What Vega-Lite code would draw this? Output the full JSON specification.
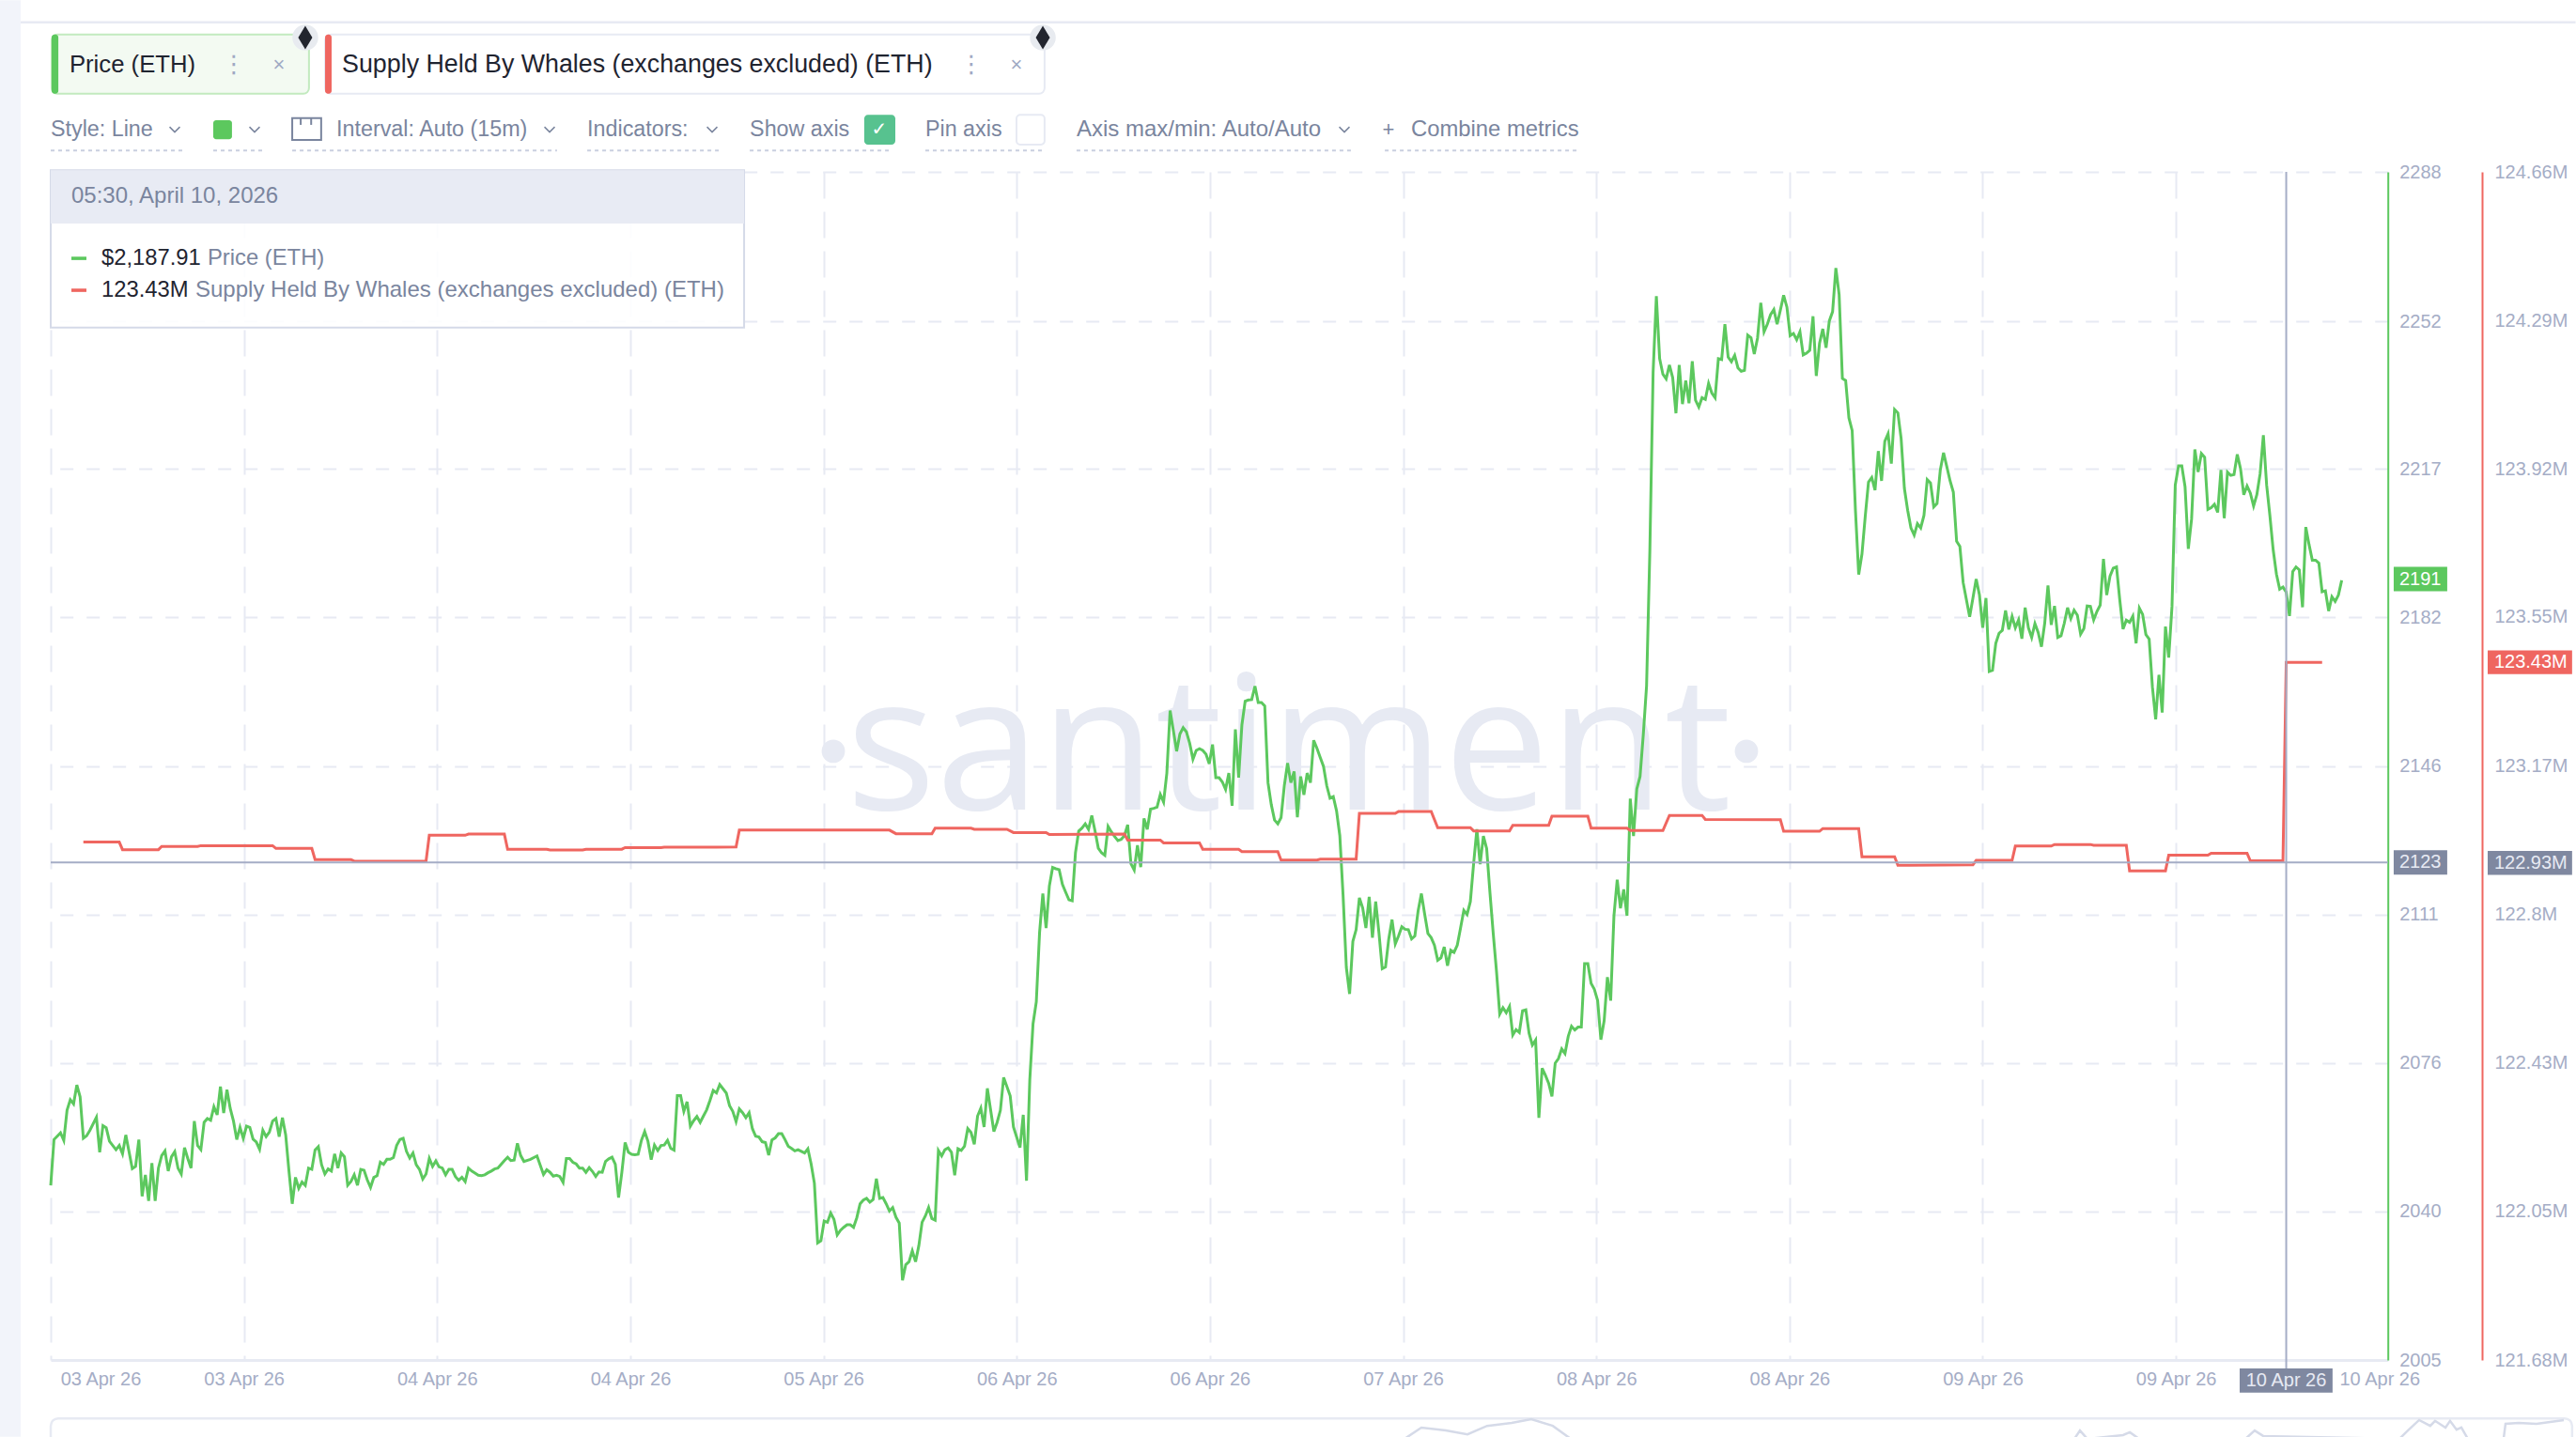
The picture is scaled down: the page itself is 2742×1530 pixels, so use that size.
{
"$schema":"https://vega.github.io/schema/vega-lite/v6.json",
"autosize":{"type":"none"},
"padding":{"left":54,"top":183,"right":200.3,"bottom":82},
"width":2487.7,
"height":1265,
"background":"#ffffff",
"config":{"view":{"stroke":null},"text":{"font":"Liberation Sans","align":"left","baseline":"middle","fontSize":23.3,"color":"#7a859e"}},
"data":{"values":[{"k":1}]},
"datasets":{
"price":[
{"t":"2026-04-03T02:15Z","p":2046.6},{"t":"2026-04-03T02:30Z","p":2057.5},{"t":"2026-04-03T03:00Z","p":2059.1},{"t":"2026-04-03T03:15Z","p":2057.3},{"t":"2026-04-03T03:30Z","p":2064.5},{"t":"2026-04-03T03:45Z","p":2067.0},{"t":"2026-04-03T04:00Z","p":2066.0},{"t":"2026-04-03T04:15Z","p":2070.5},{"t":"2026-04-03T04:30Z","p":2067.7},{"t":"2026-04-03T04:45Z","p":2057.8},{"t":"2026-04-03T05:00Z","p":2058.4},{"t":"2026-04-03T05:15Z","p":2059.7},{"t":"2026-04-03T05:45Z","p":2062.8},{"t":"2026-04-03T06:00Z","p":2054.5},{"t":"2026-04-03T06:15Z","p":2060.8},{"t":"2026-04-03T06:30Z","p":2060.3},{"t":"2026-04-03T06:45Z","p":2057.1},{"t":"2026-04-03T07:15Z","p":2055.1},{"t":"2026-04-03T07:30Z","p":2056.1},{"t":"2026-04-03T07:45Z","p":2054.1},{"t":"2026-04-03T08:00Z","p":2058.6},{"t":"2026-04-03T08:30Z","p":2050.6},{"t":"2026-04-03T08:45Z","p":2051.1},{"t":"2026-04-03T09:00Z","p":2057.5},{"t":"2026-04-03T09:15Z","p":2044.0},{"t":"2026-04-03T09:30Z","p":2049.1},{"t":"2026-04-03T09:45Z","p":2042.9},{"t":"2026-04-03T10:00Z","p":2051.9},{"t":"2026-04-03T10:15Z","p":2042.9},{"t":"2026-04-03T10:30Z","p":2050.7},{"t":"2026-04-03T10:45Z","p":2053.7},{"t":"2026-04-03T11:00Z","p":2054.8},{"t":"2026-04-03T11:15Z","p":2050.0},{"t":"2026-04-03T11:30Z","p":2053.4},{"t":"2026-04-03T11:45Z","p":2054.6},{"t":"2026-04-03T12:00Z","p":2050.7},{"t":"2026-04-03T12:15Z","p":2049.3},{"t":"2026-04-03T12:30Z","p":2055.6},{"t":"2026-04-03T12:45Z","p":2053.0},{"t":"2026-04-03T13:00Z","p":2050.7},{"t":"2026-04-03T13:15Z","p":2061.9},{"t":"2026-04-03T13:30Z","p":2056.1},{"t":"2026-04-03T13:45Z","p":2055.1},{"t":"2026-04-03T14:00Z","p":2061.6},{"t":"2026-04-03T14:15Z","p":2062.5},{"t":"2026-04-03T14:30Z","p":2062.1},{"t":"2026-04-03T14:45Z","p":2065.3},{"t":"2026-04-03T15:00Z","p":2063.4},{"t":"2026-04-03T15:15Z","p":2070.1},{"t":"2026-04-03T15:30Z","p":2063.8},{"t":"2026-04-03T15:45Z","p":2069.4},{"t":"2026-04-03T16:00Z","p":2064.9},{"t":"2026-04-03T16:15Z","p":2061.9},{"t":"2026-04-03T16:30Z","p":2057.5},{"t":"2026-04-03T16:45Z","p":2060.4},{"t":"2026-04-03T17:00Z","p":2057.8},{"t":"2026-04-03T17:15Z","p":2060.7},{"t":"2026-04-03T17:30Z","p":2060.4},{"t":"2026-04-03T17:45Z","p":2057.6},{"t":"2026-04-03T18:00Z","p":2056.9},{"t":"2026-04-03T18:15Z","p":2055.2},{"t":"2026-04-03T18:30Z","p":2059.7},{"t":"2026-04-03T18:45Z","p":2058.2},{"t":"2026-04-03T19:00Z","p":2059.3},{"t":"2026-04-03T19:15Z","p":2061.9},{"t":"2026-04-03T19:30Z","p":2062.5},{"t":"2026-04-03T19:45Z","p":2058.2},{"t":"2026-04-03T20:00Z","p":2062.7},{"t":"2026-04-03T20:15Z","p":2058.6},{"t":"2026-04-03T20:30Z","p":2050.0},{"t":"2026-04-03T20:45Z","p":2042.2},{"t":"2026-04-03T21:00Z","p":2048.5},{"t":"2026-04-03T21:15Z","p":2045.9},{"t":"2026-04-03T21:30Z","p":2047.4},{"t":"2026-04-03T21:45Z","p":2046.6},{"t":"2026-04-03T22:00Z","p":2050.7},{"t":"2026-04-03T22:15Z","p":2050.4},{"t":"2026-04-03T22:30Z","p":2055.0},{"t":"2026-04-03T22:45Z","p":2055.8},{"t":"2026-04-03T23:00Z","p":2051.5},{"t":"2026-04-03T23:15Z","p":2049.3},{"t":"2026-04-03T23:30Z","p":2050.5},{"t":"2026-04-03T23:45Z","p":2050.0},
{"t":"2026-04-04T00:00Z","p":2054.1},{"t":"2026-04-04T00:15Z","p":2050.7},{"t":"2026-04-04T00:30Z","p":2054.3},{"t":"2026-04-04T00:45Z","p":2053.4},{"t":"2026-04-04T01:00Z","p":2046.6},{"t":"2026-04-04T01:15Z","p":2047.5},{"t":"2026-04-04T01:30Z","p":2049.1},{"t":"2026-04-04T01:45Z","p":2046.6},{"t":"2026-04-04T02:00Z","p":2050.4},{"t":"2026-04-04T02:15Z","p":2050.2},{"t":"2026-04-04T02:30Z","p":2047.9},{"t":"2026-04-04T02:45Z","p":2046.1},{"t":"2026-04-04T03:00Z","p":2048.5},{"t":"2026-04-04T03:15Z","p":2048.9},{"t":"2026-04-04T03:30Z","p":2052.1},{"t":"2026-04-04T03:45Z","p":2051.6},{"t":"2026-04-04T04:00Z","p":2052.8},{"t":"2026-04-04T04:15Z","p":2052.8},{"t":"2026-04-04T04:30Z","p":2053.2},{"t":"2026-04-04T04:45Z","p":2056.1},{"t":"2026-04-04T05:00Z","p":2057.5},{"t":"2026-04-04T05:15Z","p":2057.8},{"t":"2026-04-04T05:30Z","p":2054.7},{"t":"2026-04-04T05:45Z","p":2053.1},{"t":"2026-04-04T06:00Z","p":2054.3},{"t":"2026-04-04T06:15Z","p":2051.5},{"t":"2026-04-04T06:30Z","p":2050.4},{"t":"2026-04-04T06:45Z","p":2048.1},{"t":"2026-04-04T07:00Z","p":2049.3},{"t":"2026-04-04T07:15Z","p":2053.0},{"t":"2026-04-04T07:30Z","p":2051.1},{"t":"2026-04-04T07:45Z","p":2052.4},{"t":"2026-04-04T08:00Z","p":2051.0},{"t":"2026-04-04T08:15Z","p":2050.7},{"t":"2026-04-04T08:30Z","p":2049.1},{"t":"2026-04-04T08:45Z","p":2050.4},{"t":"2026-04-04T09:00Z","p":2050.4},{"t":"2026-04-04T09:15Z","p":2048.7},{"t":"2026-04-04T09:30Z","p":2047.8},{"t":"2026-04-04T09:45Z","p":2048.5},{"t":"2026-04-04T10:00Z","p":2047.5},{"t":"2026-04-04T10:15Z","p":2050.7},{"t":"2026-04-04T10:30Z","p":2050.0},{"t":"2026-04-04T10:45Z","p":2049.5},{"t":"2026-04-04T11:00Z","p":2049.0},{"t":"2026-04-04T11:15Z","p":2048.9},{"t":"2026-04-04T11:30Z","p":2049.1},{"t":"2026-04-04T11:45Z","p":2049.6},{"t":"2026-04-04T12:00Z","p":2050.0},{"t":"2026-04-04T12:15Z","p":2050.5},{"t":"2026-04-04T12:30Z","p":2050.7},{"t":"2026-04-04T12:45Z","p":2051.6},{"t":"2026-04-04T13:00Z","p":2052.5},{"t":"2026-04-04T13:15Z","p":2053.3},{"t":"2026-04-04T13:30Z","p":2052.5},{"t":"2026-04-04T13:45Z","p":2052.6},{"t":"2026-04-04T14:00Z","p":2056.6},{"t":"2026-04-04T14:15Z","p":2053.7},
{"t":"2026-04-04T14:30Z","p":2052.3},{"t":"2026-04-04T15:00Z","p":2052.8},{"t":"2026-04-04T15:30Z","p":2053.6},{"t":"2026-04-04T16:00Z","p":2049.2},{"t":"2026-04-04T16:15Z","p":2050.3},{"t":"2026-04-04T16:30Z","p":2049.7},{"t":"2026-04-04T16:45Z","p":2048.8},{"t":"2026-04-04T17:00Z","p":2049.0},{"t":"2026-04-04T17:15Z","p":2048.7},{"t":"2026-04-04T17:30Z","p":2047.3},{"t":"2026-04-04T17:45Z","p":2053.0},{"t":"2026-04-04T18:00Z","p":2053.0},{"t":"2026-04-04T18:15Z","p":2052.1},{"t":"2026-04-04T18:30Z","p":2051.7},{"t":"2026-04-04T18:45Z","p":2050.7},{"t":"2026-04-04T19:00Z","p":2050.7},{"t":"2026-04-04T19:15Z","p":2049.7},{"t":"2026-04-04T19:30Z","p":2050.8},{"t":"2026-04-04T19:45Z","p":2049.9},{"t":"2026-04-04T20:00Z","p":2048.7},{"t":"2026-04-04T20:15Z","p":2049.8},{"t":"2026-04-04T20:30Z","p":2049.7},{"t":"2026-04-04T20:45Z","p":2052.3},{"t":"2026-04-04T21:00Z","p":2052.9},{"t":"2026-04-04T21:15Z","p":2053.3},{"t":"2026-04-04T21:30Z","p":2051.6},{"t":"2026-04-04T21:45Z","p":2043.7},{"t":"2026-04-04T22:00Z","p":2049.7},{"t":"2026-04-04T22:15Z","p":2056.8},{"t":"2026-04-04T22:30Z","p":2054.5},{"t":"2026-04-04T22:45Z","p":2054.0},{"t":"2026-04-04T23:00Z","p":2053.9},{"t":"2026-04-04T23:15Z","p":2054.0},{"t":"2026-04-04T23:30Z","p":2057.3},{"t":"2026-04-04T23:45Z","p":2059.4},
{"t":"2026-04-05T00:00Z","p":2057.1},{"t":"2026-04-05T00:15Z","p":2052.7},{"t":"2026-04-05T00:30Z","p":2056.2},{"t":"2026-04-05T00:45Z","p":2054.9},{"t":"2026-04-05T01:00Z","p":2056.1},{"t":"2026-04-05T01:15Z","p":2056.2},{"t":"2026-04-05T01:30Z","p":2057.3},{"t":"2026-04-05T01:45Z","p":2055.4},{"t":"2026-04-05T02:00Z","p":2055.0},{"t":"2026-04-05T02:15Z","p":2068.0},{"t":"2026-04-05T02:30Z","p":2068.0},{"t":"2026-04-05T02:45Z","p":2064.2},{"t":"2026-04-05T03:00Z","p":2066.5},{"t":"2026-04-05T03:15Z","p":2060.7},{"t":"2026-04-05T03:30Z","p":2062.0},{"t":"2026-04-05T03:45Z","p":2063.0},{"t":"2026-04-05T04:00Z","p":2061.6},{"t":"2026-04-05T04:15Z","p":2063.1},{"t":"2026-04-05T04:30Z","p":2064.6},{"t":"2026-04-05T04:45Z","p":2066.8},{"t":"2026-04-05T05:00Z","p":2069.2},{"t":"2026-04-05T05:15Z","p":2068.6},{"t":"2026-04-05T05:30Z","p":2070.6},{"t":"2026-04-05T05:45Z","p":2069.6},{"t":"2026-04-05T06:00Z","p":2068.6},{"t":"2026-04-05T06:15Z","p":2065.6},{"t":"2026-04-05T06:30Z","p":2064.2},{"t":"2026-04-05T06:45Z","p":2061.8},{"t":"2026-04-05T07:00Z","p":2064.8},{"t":"2026-04-05T07:15Z","p":2063.9},{"t":"2026-04-05T07:30Z","p":2062.7},{"t":"2026-04-05T07:45Z","p":2063.9},{"t":"2026-04-05T08:00Z","p":2060.1},{"t":"2026-04-05T08:15Z","p":2058.3},{"t":"2026-04-05T08:30Z","p":2058.1},{"t":"2026-04-05T08:45Z","p":2057.0},{"t":"2026-04-05T09:00Z","p":2056.8},{"t":"2026-04-05T09:15Z","p":2053.8},{"t":"2026-04-05T09:30Z","p":2057.4},{"t":"2026-04-05T09:45Z","p":2057.9},{"t":"2026-04-05T10:00Z","p":2058.9},{"t":"2026-04-05T10:15Z","p":2058.9},{"t":"2026-04-05T10:30Z","p":2057.5},{"t":"2026-04-05T10:45Z","p":2055.9},{"t":"2026-04-05T11:00Z","p":2055.4},{"t":"2026-04-05T11:15Z","p":2054.8},{"t":"2026-04-05T11:30Z","p":2055.1},{"t":"2026-04-05T11:45Z","p":2054.7},{"t":"2026-04-05T12:00Z","p":2054.3},{"t":"2026-04-05T12:15Z","p":2055.3},{"t":"2026-04-05T12:30Z","p":2051.7},{"t":"2026-04-05T12:45Z","p":2047.1},{"t":"2026-04-05T13:00Z","p":2032.9},{"t":"2026-04-05T13:15Z","p":2033.4},{"t":"2026-04-05T13:30Z","p":2038.1},{"t":"2026-04-05T13:45Z","p":2037.8},{"t":"2026-04-05T14:00Z","p":2040.0},{"t":"2026-04-05T14:15Z","p":2038.5},{"t":"2026-04-05T14:30Z","p":2034.8},{"t":"2026-04-05T14:45Z","p":2035.9},{"t":"2026-04-05T15:00Z","p":2036.6},{"t":"2026-04-05T15:15Z","p":2037.2},{"t":"2026-04-05T15:30Z","p":2037.2},{"t":"2026-04-05T15:45Z","p":2036.6},{"t":"2026-04-05T16:00Z","p":2038.9},{"t":"2026-04-05T16:15Z","p":2042.2},{"t":"2026-04-05T16:30Z","p":2043.1},{"t":"2026-04-05T16:45Z","p":2043.5},{"t":"2026-04-05T17:00Z","p":2042.6},{"t":"2026-04-05T17:15Z","p":2043.2},{"t":"2026-04-05T17:30Z","p":2048.2},{"t":"2026-04-05T17:45Z","p":2043.5},{"t":"2026-04-05T18:00Z","p":2043.7},{"t":"2026-04-05T18:15Z","p":2042.2},{"t":"2026-04-05T18:30Z","p":2040.5},{"t":"2026-04-05T18:45Z","p":2041.3},{"t":"2026-04-05T19:00Z","p":2039.0},{"t":"2026-04-05T19:15Z","p":2037.6},{"t":"2026-04-05T19:30Z","p":2024.0},{"t":"2026-04-05T19:45Z","p":2027.7},{"t":"2026-04-05T20:00Z","p":2028.4},{"t":"2026-04-05T20:15Z","p":2031.0},{"t":"2026-04-05T20:30Z","p":2028.4},{"t":"2026-04-05T20:45Z","p":2032.2},{"t":"2026-04-05T21:00Z","p":2037.8},{"t":"2026-04-05T21:15Z","p":2039.3},{"t":"2026-04-05T21:30Z","p":2041.3},{"t":"2026-04-05T21:45Z","p":2038.7},{"t":"2026-04-05T22:00Z","p":2038.3},{"t":"2026-04-05T22:15Z","p":2054.9},{"t":"2026-04-05T22:30Z","p":2053.6},{"t":"2026-04-05T22:45Z","p":2055.1},{"t":"2026-04-05T23:00Z","p":2055.5},{"t":"2026-04-05T23:15Z","p":2054.5},{"t":"2026-04-05T23:30Z","p":2049.0},{"t":"2026-04-05T23:45Z","p":2055.3},
{"t":"2026-04-06T00:00Z","p":2054.9},{"t":"2026-04-06T00:15Z","p":2055.9},{"t":"2026-04-06T00:30Z","p":2060.1},{"t":"2026-04-06T00:45Z","p":2059.2},{"t":"2026-04-06T01:00Z","p":2056.4},{"t":"2026-04-06T01:15Z","p":2063.1},{"t":"2026-04-06T01:30Z","p":2065.0},{"t":"2026-04-06T01:45Z","p":2060.5},{"t":"2026-04-06T02:00Z","p":2069.7},{"t":"2026-04-06T02:30Z","p":2059.4},{"t":"2026-04-06T02:45Z","p":2061.6},{"t":"2026-04-06T03:00Z","p":2064.5},{"t":"2026-04-06T03:15Z","p":2072.3},{"t":"2026-04-06T03:45Z","p":2067.9},{"t":"2026-04-06T04:00Z","p":2060.5},{"t":"2026-04-06T04:30Z","p":2055.6},{"t":"2026-04-06T04:45Z","p":2063.4},{"t":"2026-04-06T05:00Z","p":2047.7},{"t":"2026-04-06T05:15Z","p":2071.7},{"t":"2026-04-06T05:30Z","p":2085.1},{"t":"2026-04-06T05:45Z","p":2090.3},{"t":"2026-04-06T06:00Z","p":2106.8},{"t":"2026-04-06T06:15Z","p":2116.1},{"t":"2026-04-06T06:30Z","p":2107.9},{"t":"2026-04-06T06:45Z","p":2117.9},{"t":"2026-04-06T07:00Z","p":2122.3},{"t":"2026-04-06T07:15Z","p":2122.0},{"t":"2026-04-06T07:30Z","p":2121.8},{"t":"2026-04-06T07:45Z","p":2118.3},{"t":"2026-04-06T08:00Z","p":2116.4},{"t":"2026-04-06T08:15Z","p":2114.6},{"t":"2026-04-06T08:30Z","p":2114.4},{"t":"2026-04-06T08:45Z","p":2125.8},{"t":"2026-04-06T09:00Z","p":2131.0},{"t":"2026-04-06T09:15Z","p":2131.7},{"t":"2026-04-06T09:30Z","p":2132.7},{"t":"2026-04-06T09:45Z","p":2131.4},{"t":"2026-04-06T10:00Z","p":2134.7},{"t":"2026-04-06T10:15Z","p":2131.0},{"t":"2026-04-06T10:30Z","p":2126.9},{"t":"2026-04-06T10:45Z","p":2125.8},{"t":"2026-04-06T11:00Z","p":2125.2},{"t":"2026-04-06T11:15Z","p":2132.1},{"t":"2026-04-06T11:30Z","p":2130.8},{"t":"2026-04-06T11:45Z","p":2129.7},{"t":"2026-04-06T12:00Z","p":2128.7},{"t":"2026-04-06T12:15Z","p":2129.0},{"t":"2026-04-06T12:30Z","p":2129.9},{"t":"2026-04-06T12:45Z","p":2132.5},{"t":"2026-04-06T13:00Z","p":2123.2},{"t":"2026-04-06T13:15Z","p":2121.7},{"t":"2026-04-06T13:30Z","p":2127.6},{"t":"2026-04-06T13:45Z","p":2122.4},{"t":"2026-04-06T14:00Z","p":2134.0},{"t":"2026-04-06T14:15Z","p":2131.4},{"t":"2026-04-06T14:30Z","p":2136.2},{"t":"2026-04-06T14:45Z","p":2136.4},{"t":"2026-04-06T15:00Z","p":2136.7},{"t":"2026-04-06T15:15Z","p":2139.7},{"t":"2026-04-06T15:30Z","p":2137.9},{"t":"2026-04-06T15:45Z","p":2144.8},{"t":"2026-04-06T16:00Z","p":2159.7},{"t":"2026-04-06T16:15Z","p":2154.9},{"t":"2026-04-06T16:30Z","p":2150.0},{"t":"2026-04-06T16:45Z","p":2154.1},{"t":"2026-04-06T17:00Z","p":2155.6},{"t":"2026-04-06T17:15Z","p":2154.6},{"t":"2026-04-06T17:30Z","p":2151.9},{"t":"2026-04-06T17:45Z","p":2148.1},{"t":"2026-04-06T18:00Z","p":2150.2},{"t":"2026-04-06T18:15Z","p":2150.6},{"t":"2026-04-06T18:30Z","p":2150.2},{"t":"2026-04-06T18:45Z","p":2149.3},{"t":"2026-04-06T19:00Z","p":2147.0},{"t":"2026-04-06T19:15Z","p":2151.6},{"t":"2026-04-06T19:30Z","p":2143.7},{"t":"2026-04-06T19:45Z","p":2143.7},{"t":"2026-04-06T20:00Z","p":2142.7},{"t":"2026-04-06T20:15Z","p":2140.9},{"t":"2026-04-06T20:30Z","p":2144.8},{"t":"2026-04-06T20:45Z","p":2137.0},{"t":"2026-04-06T21:00Z","p":2155.2},{"t":"2026-04-06T21:15Z","p":2143.7},{"t":"2026-04-06T21:30Z","p":2156.3},{"t":"2026-04-06T21:45Z","p":2161.9},{"t":"2026-04-06T22:00Z","p":2162.2},{"t":"2026-04-06T22:15Z","p":2162.3},{"t":"2026-04-06T22:30Z","p":2165.5},{"t":"2026-04-06T22:45Z","p":2161.6},{"t":"2026-04-06T23:00Z","p":2161.6},{"t":"2026-04-06T23:15Z","p":2160.8},{"t":"2026-04-06T23:30Z","p":2142.5},{"t":"2026-04-06T23:45Z","p":2137.3},
{"t":"2026-04-07T00:00Z","p":2133.6},{"t":"2026-04-07T00:15Z","p":2132.7},{"t":"2026-04-07T00:30Z","p":2134.2},{"t":"2026-04-07T00:45Z","p":2141.8},{"t":"2026-04-07T01:00Z","p":2147.2},{"t":"2026-04-07T01:15Z","p":2142.5},{"t":"2026-04-07T01:30Z","p":2145.2},{"t":"2026-04-07T01:45Z","p":2134.3},{"t":"2026-04-07T02:00Z","p":2144.0},{"t":"2026-04-07T02:15Z","p":2139.6},{"t":"2026-04-07T02:30Z","p":2144.8},{"t":"2026-04-07T02:45Z","p":2142.5},{"t":"2026-04-07T03:00Z","p":2152.6},{"t":"2026-04-07T03:15Z","p":2150.7},{"t":"2026-04-07T03:30Z","p":2148.5},{"t":"2026-04-07T03:45Z","p":2146.4},{"t":"2026-04-07T04:00Z","p":2141.8},{"t":"2026-04-07T04:15Z","p":2138.8},{"t":"2026-04-07T04:30Z","p":2139.2},{"t":"2026-04-07T04:45Z","p":2135.8},{"t":"2026-04-07T05:00Z","p":2129.9},{"t":"2026-04-07T05:15Z","p":2115.7},{"t":"2026-04-07T05:30Z","p":2098.5},{"t":"2026-04-07T05:45Z","p":2092.2},{"t":"2026-04-07T06:00Z","p":2104.7},{"t":"2026-04-07T06:15Z","p":2107.5},{"t":"2026-04-07T06:30Z","p":2115.1},{"t":"2026-04-07T06:45Z","p":2112.7},{"t":"2026-04-07T07:00Z","p":2107.9},{"t":"2026-04-07T07:15Z","p":2115.3},{"t":"2026-04-07T07:30Z","p":2105.6},{"t":"2026-04-07T07:45Z","p":2114.2},{"t":"2026-04-07T08:00Z","p":2106.7},{"t":"2026-04-07T08:15Z","p":2098.2},{"t":"2026-04-07T08:30Z","p":2098.6},{"t":"2026-04-07T08:45Z","p":2105.3},{"t":"2026-04-07T09:00Z","p":2109.9},{"t":"2026-04-07T09:15Z","p":2104.1},{"t":"2026-04-07T09:30Z","p":2106.0},{"t":"2026-04-07T09:45Z","p":2108.2},{"t":"2026-04-07T10:00Z","p":2107.6},{"t":"2026-04-07T10:15Z","p":2107.5},{"t":"2026-04-07T10:30Z","p":2105.3},{"t":"2026-04-07T10:45Z","p":2106.0},{"t":"2026-04-07T11:00Z","p":2112.0},{"t":"2026-04-07T11:15Z","p":2116.1},{"t":"2026-04-07T11:30Z","p":2111.2},{"t":"2026-04-07T11:45Z","p":2106.6},{"t":"2026-04-07T12:00Z","p":2105.6},{"t":"2026-04-07T12:15Z","p":2103.8},{"t":"2026-04-07T12:30Z","p":2100.2},{"t":"2026-04-07T12:45Z","p":2100.8},{"t":"2026-04-07T13:00Z","p":2103.4},{"t":"2026-04-07T13:15Z","p":2098.9},{"t":"2026-04-07T13:30Z","p":2102.6},{"t":"2026-04-07T13:45Z","p":2102.1},{"t":"2026-04-07T14:00Z","p":2103.8},{"t":"2026-04-07T14:15Z","p":2107.9},{"t":"2026-04-07T14:30Z","p":2112.1},{"t":"2026-04-07T14:45Z","p":2111.1},{"t":"2026-04-07T15:00Z","p":2114.2},{"t":"2026-04-07T15:15Z","p":2123.2},{"t":"2026-04-07T15:30Z","p":2131.4},{"t":"2026-04-07T15:45Z","p":2123.1},{"t":"2026-04-07T16:00Z","p":2129.8},{"t":"2026-04-07T16:15Z","p":2126.8},{"t":"2026-04-07T16:30Z","p":2116.4},{"t":"2026-04-07T16:45Z","p":2106.7},{"t":"2026-04-07T17:00Z","p":2097.7},{"t":"2026-04-07T17:15Z","p":2087.4},{"t":"2026-04-07T17:30Z","p":2088.9},{"t":"2026-04-07T17:45Z","p":2087.7},{"t":"2026-04-07T18:00Z","p":2089.2},{"t":"2026-04-07T18:15Z","p":2082.4},{"t":"2026-04-07T18:30Z","p":2083.7},{"t":"2026-04-07T18:45Z","p":2083.0},{"t":"2026-04-07T19:00Z","p":2088.2},{"t":"2026-04-07T19:15Z","p":2088.4},{"t":"2026-04-07T19:30Z","p":2082.8},{"t":"2026-04-07T19:45Z","p":2080.0},{"t":"2026-04-07T20:00Z","p":2081.2},{"t":"2026-04-07T20:15Z","p":2062.7},{"t":"2026-04-07T20:30Z","p":2074.5},{"t":"2026-04-07T20:45Z","p":2072.8},{"t":"2026-04-07T21:00Z","p":2070.9},{"t":"2026-04-07T21:15Z","p":2067.8},{"t":"2026-04-07T21:30Z","p":2075.7},{"t":"2026-04-07T21:45Z","p":2076.8},{"t":"2026-04-07T22:00Z","p":2079.1},{"t":"2026-04-07T22:15Z","p":2078.0},{"t":"2026-04-07T22:30Z","p":2082.1},{"t":"2026-04-07T22:45Z","p":2084.5},{"t":"2026-04-07T23:00Z","p":2083.6},{"t":"2026-04-07T23:15Z","p":2084.3},{"t":"2026-04-07T23:30Z","p":2084.3},{"t":"2026-04-07T23:45Z","p":2099.4},
{"t":"2026-04-08T00:00Z","p":2099.4},{"t":"2026-04-08T00:15Z","p":2094.7},{"t":"2026-04-08T00:30Z","p":2093.3},{"t":"2026-04-08T00:45Z","p":2090.6},{"t":"2026-04-08T01:00Z","p":2081.3},{"t":"2026-04-08T01:15Z","p":2085.8},{"t":"2026-04-08T01:30Z","p":2096.2},{"t":"2026-04-08T01:45Z","p":2090.6},{"t":"2026-04-08T02:00Z","p":2110.8},{"t":"2026-04-08T02:15Z","p":2119.4},{"t":"2026-04-08T02:30Z","p":2112.6},{"t":"2026-04-08T02:45Z","p":2117.1},{"t":"2026-04-08T03:00Z","p":2110.8},{"t":"2026-04-08T03:15Z","p":2138.7},{"t":"2026-04-08T03:30Z","p":2129.8},{"t":"2026-04-08T03:45Z","p":2141.0},{"t":"2026-04-08T04:00Z","p":2144.0},{"t":"2026-04-08T04:15Z","p":2154.0},{"t":"2026-04-08T04:30Z","p":2165.6},{"t":"2026-04-08T04:45Z","p":2197.7},{"t":"2026-04-08T05:00Z","p":2240.2},{"t":"2026-04-08T05:15Z","p":2258.4},{"t":"2026-04-08T05:30Z","p":2243.5},{"t":"2026-04-08T05:45Z","p":2239.8},{"t":"2026-04-08T06:00Z","p":2238.7},{"t":"2026-04-08T06:15Z","p":2242.0},{"t":"2026-04-08T06:30Z","p":2239.0},{"t":"2026-04-08T06:45Z","p":2230.5},{"t":"2026-04-08T07:00Z","p":2242.0},{"t":"2026-04-08T07:15Z","p":2232.7},{"t":"2026-04-08T07:30Z","p":2238.3},{"t":"2026-04-08T07:45Z","p":2232.9},{"t":"2026-04-08T08:00Z","p":2242.9},{"t":"2026-04-08T08:15Z","p":2233.6},{"t":"2026-04-08T08:30Z","p":2232.0},{"t":"2026-04-08T08:45Z","p":2234.2},{"t":"2026-04-08T09:00Z","p":2233.8},{"t":"2026-04-08T09:15Z","p":2237.6},{"t":"2026-04-08T09:30Z","p":2235.3},{"t":"2026-04-08T09:45Z","p":2234.2},{"t":"2026-04-08T10:00Z","p":2243.5},{"t":"2026-04-08T10:15Z","p":2243.3},{"t":"2026-04-08T10:30Z","p":2251.7},{"t":"2026-04-08T10:45Z","p":2243.9},{"t":"2026-04-08T11:00Z","p":2242.8},{"t":"2026-04-08T11:15Z","p":2244.3},{"t":"2026-04-08T11:30Z","p":2241.3},{"t":"2026-04-08T11:45Z","p":2240.5},{"t":"2026-04-08T12:00Z","p":2240.7},{"t":"2026-04-08T12:15Z","p":2249.1},{"t":"2026-04-08T12:30Z","p":2248.5},{"t":"2026-04-08T12:45Z","p":2244.6},{"t":"2026-04-08T13:00Z","p":2248.4},{"t":"2026-04-08T13:15Z","p":2256.8},{"t":"2026-04-08T13:30Z","p":2249.9},{"t":"2026-04-08T13:45Z","p":2251.7},{"t":"2026-04-08T14:00Z","p":2254.0},{"t":"2026-04-08T14:15Z","p":2255.2},{"t":"2026-04-08T14:30Z","p":2251.7},{"t":"2026-04-08T14:45Z","p":2255.1},{"t":"2026-04-08T15:00Z","p":2258.6},{"t":"2026-04-08T15:15Z","p":2255.8},{"t":"2026-04-08T15:30Z","p":2249.0},{"t":"2026-04-08T15:45Z","p":2249.5},{"t":"2026-04-08T16:00Z","p":2248.0},{"t":"2026-04-08T16:15Z","p":2249.9},{"t":"2026-04-08T16:30Z","p":2244.4},{"t":"2026-04-08T16:45Z","p":2244.8},{"t":"2026-04-08T17:00Z","p":2245.5},{"t":"2026-04-08T17:15Z","p":2253.6},{"t":"2026-04-08T17:30Z","p":2239.4},{"t":"2026-04-08T17:45Z","p":2247.2},{"t":"2026-04-08T18:00Z","p":2250.6},{"t":"2026-04-08T18:15Z","p":2246.1},{"t":"2026-04-08T18:30Z","p":2252.5},{"t":"2026-04-08T18:45Z","p":2254.7},{"t":"2026-04-08T19:00Z","p":2265.1},{"t":"2026-04-08T19:15Z","p":2258.8},{"t":"2026-04-08T19:30Z","p":2238.8},{"t":"2026-04-08T19:45Z","p":2238.3},{"t":"2026-04-08T20:00Z","p":2229.4},{"t":"2026-04-08T20:15Z","p":2226.4},{"t":"2026-04-08T20:30Z","p":2207.4},{"t":"2026-04-08T20:45Z","p":2192.1},{"t":"2026-04-08T21:00Z","p":2197.0},{"t":"2026-04-08T21:15Z","p":2205.9},{"t":"2026-04-08T21:30Z","p":2214.1},{"t":"2026-04-08T21:45Z","p":2215.2},{"t":"2026-04-08T22:00Z","p":2212.2},{"t":"2026-04-08T22:15Z","p":2221.5},{"t":"2026-04-08T22:30Z","p":2214.4},{"t":"2026-04-08T22:45Z","p":2223.8},{"t":"2026-04-08T23:00Z","p":2225.6},{"t":"2026-04-08T23:15Z","p":2218.5},{"t":"2026-04-08T23:30Z","p":2231.4},{"t":"2026-04-08T23:45Z","p":2230.6},
{"t":"2026-04-09T00:00Z","p":2224.5},{"t":"2026-04-09T00:15Z","p":2212.6},{"t":"2026-04-09T00:30Z","p":2207.4},{"t":"2026-04-09T00:45Z","p":2203.2},{"t":"2026-04-09T01:00Z","p":2201.5},{"t":"2026-04-09T01:15Z","p":2204.2},{"t":"2026-04-09T01:30Z","p":2203.2},{"t":"2026-04-09T01:45Z","p":2206.2},{"t":"2026-04-09T02:00Z","p":2214.7},{"t":"2026-04-09T02:15Z","p":2213.9},{"t":"2026-04-09T02:30Z","p":2208.2},{"t":"2026-04-09T02:45Z","p":2209.0},{"t":"2026-04-09T03:00Z","p":2217.0},{"t":"2026-04-09T03:15Z","p":2221.1},{"t":"2026-04-09T03:30Z","p":2217.8},{"t":"2026-04-09T03:45Z","p":2214.4},{"t":"2026-04-09T04:00Z","p":2211.7},{"t":"2026-04-09T04:15Z","p":2200.0},{"t":"2026-04-09T04:30Z","p":2198.8},{"t":"2026-04-09T04:45Z","p":2190.2},{"t":"2026-04-09T05:00Z","p":2186.1},{"t":"2026-04-09T05:15Z","p":2182.0},{"t":"2026-04-09T05:30Z","p":2186.5},{"t":"2026-04-09T05:45Z","p":2191.0},{"t":"2026-04-09T06:00Z","p":2187.2},{"t":"2026-04-09T06:15Z","p":2179.4},{"t":"2026-04-09T06:30Z","p":2186.5},{"t":"2026-04-09T06:45Z","p":2169.0},{"t":"2026-04-09T07:00Z","p":2169.3},{"t":"2026-04-09T07:15Z","p":2175.7},{"t":"2026-04-09T07:30Z","p":2178.1},{"t":"2026-04-09T07:45Z","p":2178.8},{"t":"2026-04-09T08:00Z","p":2183.5},{"t":"2026-04-09T08:15Z","p":2179.0},{"t":"2026-04-09T08:30Z","p":2182.1},{"t":"2026-04-09T08:45Z","p":2179.4},{"t":"2026-04-09T09:00Z","p":2181.3},{"t":"2026-04-09T09:15Z","p":2176.8},{"t":"2026-04-09T09:30Z","p":2184.2},{"t":"2026-04-09T09:45Z","p":2179.4},{"t":"2026-04-09T10:00Z","p":2177.1},{"t":"2026-04-09T10:15Z","p":2180.4},{"t":"2026-04-09T10:30Z","p":2178.3},{"t":"2026-04-09T10:45Z","p":2174.9},{"t":"2026-04-09T11:00Z","p":2180.5},{"t":"2026-04-09T11:15Z","p":2189.5},{"t":"2026-04-09T11:30Z","p":2180.1},{"t":"2026-04-09T11:45Z","p":2184.6},{"t":"2026-04-09T12:00Z","p":2177.1},{"t":"2026-04-09T12:15Z","p":2177.5},{"t":"2026-04-09T12:30Z","p":2180.5},{"t":"2026-04-09T12:45Z","p":2184.2},{"t":"2026-04-09T13:00Z","p":2181.6},{"t":"2026-04-09T13:15Z","p":2183.6},{"t":"2026-04-09T13:30Z","p":2182.4},{"t":"2026-04-09T13:45Z","p":2177.9},{"t":"2026-04-09T14:00Z","p":2179.2},{"t":"2026-04-09T14:15Z","p":2184.6},{"t":"2026-04-09T14:30Z","p":2184.5},{"t":"2026-04-09T14:45Z","p":2181.3},{"t":"2026-04-09T15:00Z","p":2183.3},{"t":"2026-04-09T15:15Z","p":2184.8},{"t":"2026-04-09T15:30Z","p":2195.8},{"t":"2026-04-09T15:45Z","p":2187.2},{"t":"2026-04-09T16:00Z","p":2191.7},{"t":"2026-04-09T16:15Z","p":2193.6},{"t":"2026-04-09T16:30Z","p":2193.9},{"t":"2026-04-09T16:45Z","p":2186.0},{"t":"2026-04-09T17:00Z","p":2179.1},{"t":"2026-04-09T17:15Z","p":2181.2},{"t":"2026-04-09T17:30Z","p":2180.7},{"t":"2026-04-09T17:45Z","p":2182.2},{"t":"2026-04-09T18:00Z","p":2175.7},{"t":"2026-04-09T18:15Z","p":2184.1},{"t":"2026-04-09T18:30Z","p":2182.6},{"t":"2026-04-09T18:45Z","p":2177.8},{"t":"2026-04-09T19:00Z","p":2176.7},{"t":"2026-04-09T19:15Z","p":2165.3},{"t":"2026-04-09T19:30Z","p":2157.6},{"t":"2026-04-09T19:45Z","p":2168.2},{"t":"2026-04-09T20:00Z","p":2159.2},{"t":"2026-04-09T20:15Z","p":2179.7},{"t":"2026-04-09T20:30Z","p":2172.3},{"t":"2026-04-09T20:45Z","p":2184.5},{"t":"2026-04-09T21:00Z","p":2213.4},{"t":"2026-04-09T21:15Z","p":2218.0},{"t":"2026-04-09T21:30Z","p":2218.0},{"t":"2026-04-09T21:45Z","p":2213.0},{"t":"2026-04-09T22:00Z","p":2198.2},{"t":"2026-04-09T22:15Z","p":2205.3},{"t":"2026-04-09T22:30Z","p":2221.9},{"t":"2026-04-09T22:45Z","p":2216.5},{"t":"2026-04-09T23:00Z","p":2220.9},{"t":"2026-04-09T23:15Z","p":2220.0},{"t":"2026-04-09T23:30Z","p":2207.6},{"t":"2026-04-09T23:45Z","p":2208.0},
{"t":"2026-04-10T00:00Z","p":2208.8},{"t":"2026-04-10T00:15Z","p":2206.9},{"t":"2026-04-10T00:30Z","p":2217.0},{"t":"2026-04-10T00:45Z","p":2205.5},{"t":"2026-04-10T01:00Z","p":2216.5},{"t":"2026-04-10T01:15Z","p":2215.7},{"t":"2026-04-10T01:30Z","p":2215.9},{"t":"2026-04-10T01:45Z","p":2220.7},{"t":"2026-04-10T02:00Z","p":2217.3},{"t":"2026-04-10T02:15Z","p":2211.1},{"t":"2026-04-10T02:30Z","p":2213.2},{"t":"2026-04-10T02:45Z","p":2211.5},{"t":"2026-04-10T03:00Z","p":2208.4},{"t":"2026-04-10T03:15Z","p":2211.1},{"t":"2026-04-10T03:30Z","p":2216.1},{"t":"2026-04-10T03:45Z","p":2225.3},{"t":"2026-04-10T04:00Z","p":2213.4},{"t":"2026-04-10T04:15Z","p":2206.1},{"t":"2026-04-10T04:30Z","p":2198.0},{"t":"2026-04-10T04:45Z","p":2192.2},{"t":"2026-04-10T05:00Z","p":2188.6},{"t":"2026-04-10T05:15Z","p":2189.1},{"t":"2026-04-10T05:30Z","p":2187.91},{"t":"2026-04-10T05:45Z","p":2182.2},{"t":"2026-04-10T06:00Z","p":2192.8},{"t":"2026-04-10T06:15Z","p":2193.9},{"t":"2026-04-10T06:30Z","p":2193.2},{"t":"2026-04-10T06:45Z","p":2184.3},{"t":"2026-04-10T07:00Z","p":2203.4},{"t":"2026-04-10T07:15Z","p":2199.2},{"t":"2026-04-10T07:30Z","p":2195.5},{"t":"2026-04-10T07:45Z","p":2195.5},{"t":"2026-04-10T08:00Z","p":2194.8},{"t":"2026-04-10T08:15Z","p":2188.0},{"t":"2026-04-10T08:30Z","p":2188.2},{"t":"2026-04-10T08:45Z","p":2183.4},{"t":"2026-04-10T09:00Z","p":2186.8},{"t":"2026-04-10T09:15Z","p":2185.7},{"t":"2026-04-10T09:30Z","p":2187.2},{"t":"2026-04-10T09:45Z","p":2190.7}
],
"supply":[
{"t":"2026-04-03T04:45Z","s":122.979},{"t":"2026-04-03T07:30Z","s":122.979},{"t":"2026-04-03T07:45Z","s":122.960},{"t":"2026-04-03T10:30Z","s":122.960},{"t":"2026-04-03T10:45Z","s":122.968},{"t":"2026-04-03T13:30Z","s":122.968},{"t":"2026-04-03T13:45Z","s":122.970},{"t":"2026-04-03T19:15Z","s":122.970},{"t":"2026-04-03T19:30Z","s":122.963},{"t":"2026-04-03T22:15Z","s":122.963},{"t":"2026-04-03T22:30Z","s":122.935},{"t":"2026-04-04T01:15Z","s":122.935},{"t":"2026-04-04T01:30Z","s":122.931},{"t":"2026-04-04T07:00Z","s":122.931},{"t":"2026-04-04T07:15Z","s":122.996},{"t":"2026-04-04T10:00Z","s":122.996},{"t":"2026-04-04T10:15Z","s":122.999},{"t":"2026-04-04T13:00Z","s":122.999},{"t":"2026-04-04T13:15Z","s":122.961},{"t":"2026-04-04T16:15Z","s":122.961},{"t":"2026-04-04T16:30Z","s":122.959},{"t":"2026-04-04T19:00Z","s":122.959},{"t":"2026-04-04T19:15Z","s":122.961},{"t":"2026-04-04T22:00Z","s":122.961},{"t":"2026-04-04T22:15Z","s":122.965},{"t":"2026-04-05T01:00Z","s":122.965},{"t":"2026-04-05T01:15Z","s":122.966},{"t":"2026-04-05T04:00Z","s":122.966},{"t":"2026-04-05T06:45Z","s":122.967},{"t":"2026-04-05T07:00Z","s":123.009},{"t":"2026-04-05T18:30Z","s":123.009},{"t":"2026-04-05T19:00Z","s":123.000},{"t":"2026-04-05T21:45Z","s":123.000},{"t":"2026-04-05T22:00Z","s":123.014},{"t":"2026-04-06T00:45Z","s":123.014},{"t":"2026-04-06T01:00Z","s":123.011},{"t":"2026-04-06T03:30Z","s":123.011},{"t":"2026-04-06T04:00Z","s":123.003},{"t":"2026-04-06T06:30Z","s":123.003},{"t":"2026-04-06T06:45Z","s":122.998},{"t":"2026-04-06T12:30Z","s":122.999},{"t":"2026-04-06T12:45Z","s":122.984},{"t":"2026-04-06T15:15Z","s":122.984},{"t":"2026-04-06T15:30Z","s":122.977},{"t":"2026-04-06T18:15Z","s":122.977},{"t":"2026-04-06T18:30Z","s":122.961},{"t":"2026-04-06T21:15Z","s":122.961},{"t":"2026-04-06T21:30Z","s":122.955},{"t":"2026-04-07T00:15Z","s":122.955},{"t":"2026-04-07T00:30Z","s":122.934},{"t":"2026-04-07T03:15Z","s":122.934},{"t":"2026-04-07T03:30Z","s":122.936},{"t":"2026-04-07T06:15Z","s":122.936},{"t":"2026-04-07T06:30Z","s":123.051},{"t":"2026-04-07T09:15Z","s":123.051},{"t":"2026-04-07T09:30Z","s":123.056},{"t":"2026-04-07T12:00Z","s":123.056},{"t":"2026-04-07T12:30Z","s":123.015},{"t":"2026-04-07T15:00Z","s":123.015},{"t":"2026-04-07T15:15Z","s":123.007},{"t":"2026-04-07T18:00Z","s":123.007},{"t":"2026-04-07T18:15Z","s":123.021},{"t":"2026-04-07T21:00Z","s":123.021},{"t":"2026-04-07T21:15Z","s":123.044},{"t":"2026-04-08T00:00Z","s":123.044},{"t":"2026-04-08T00:15Z","s":123.014},{"t":"2026-04-08T03:00Z","s":123.014},{"t":"2026-04-08T03:15Z","s":123.008},{"t":"2026-04-08T05:45Z","s":123.008},{"t":"2026-04-08T06:15Z","s":123.046},{"t":"2026-04-08T08:45Z","s":123.046},{"t":"2026-04-08T09:00Z","s":123.036},{"t":"2026-04-08T14:45Z","s":123.035},{"t":"2026-04-08T15:00Z","s":123.006},{"t":"2026-04-08T17:45Z","s":123.006},{"t":"2026-04-08T18:00Z","s":123.013},{"t":"2026-04-08T20:45Z","s":123.013},{"t":"2026-04-08T21:00Z","s":122.942},{"t":"2026-04-08T23:30Z","s":122.942},{"t":"2026-04-08T23:45Z","s":122.921},{"t":"2026-04-09T05:30Z","s":122.922},{"t":"2026-04-09T05:45Z","s":122.933},{"t":"2026-04-09T08:30Z","s":122.933},{"t":"2026-04-09T08:45Z","s":122.969},{"t":"2026-04-09T11:30Z","s":122.969},{"t":"2026-04-09T11:45Z","s":122.973},{"t":"2026-04-09T14:30Z","s":122.973},{"t":"2026-04-09T14:45Z","s":122.971},{"t":"2026-04-09T17:15Z","s":122.971},{"t":"2026-04-09T17:30Z","s":122.907},{"t":"2026-04-09T20:15Z","s":122.907},{"t":"2026-04-09T20:30Z","s":122.946},{"t":"2026-04-09T23:30Z","s":122.946},{"t":"2026-04-09T23:45Z","s":122.951},{"t":"2026-04-10T02:30Z","s":122.951},{"t":"2026-04-10T02:45Z","s":122.932},{"t":"2026-04-10T05:15Z","s":122.932},{"t":"2026-04-10T05:30Z","s":123.43},{"t":"2026-04-10T08:15Z","s":123.43}
],
"overview":[
{"t":"2026-04-07T09:57Z","p":1986.2},{"t":"2026-04-07T11:15Z","p":1988.9},{"t":"2026-04-07T13:07Z","p":1988.2},{"t":"2026-04-07T14:47Z","p":1987.3},{"t":"2026-04-07T16:17Z","p":1989.3},{"t":"2026-04-07T18:10Z","p":1990.0},{"t":"2026-04-07T19:40Z","p":1990.9},{"t":"2026-04-07T21:19Z","p":1989.3},{"t":"2026-04-07T22:42Z","p":1986.2},{"t":"2026-04-09T13:16Z","p":1986.2},{"t":"2026-04-09T13:42Z","p":1988.2},{"t":"2026-04-09T14:16Z","p":1986.2},{"t":"2026-04-09T17:00Z","p":1987.1},{"t":"2026-04-09T17:31Z","p":1987.8},{"t":"2026-04-09T18:14Z","p":1986.2},{"t":"2026-04-10T02:22Z","p":1986.2},{"t":"2026-04-10T03:05Z","p":1988.2},{"t":"2026-04-10T03:44Z","p":1986.9},{"t":"2026-04-10T14:10Z","p":1986.2},{"t":"2026-04-10T14:49Z","p":1988.2},{"t":"2026-04-10T15:41Z","p":1990.7},{"t":"2026-04-10T16:32Z","p":1989.3},{"t":"2026-04-10T16:54Z","p":1990.5},{"t":"2026-04-10T17:42Z","p":1988.9},{"t":"2026-04-10T18:03Z","p":1990.5},{"t":"2026-04-10T18:33Z","p":1988.4},{"t":"2026-04-10T18:55Z","p":1988.9},{"t":"2026-04-10T19:25Z","p":1986.2},{"t":"2026-04-10T22:09Z","p":1986.2},{"t":"2026-04-10T22:18Z","p":1989.8},{"t":"2026-04-10T23:18Z","p":1990.0},{"t":"2026-04-11T00:40Z","p":1989.8},{"t":"2026-04-11T02:46Z","p":1990.7}
]
},
"resolve":{"scale":{"y":"independent"}},
"layer":[
{"layer":[
{"data":{"name":"price"},"mark":{"type":"line","color":"#5cc85e","strokeWidth":2.6,"opacity":0},"encoding":{
"x":{"field":"t","type":"temporal","scale":{"domain":["2026-04-03T02:15:00Z","2026-04-10T13:17:00Z"],"nice":false},"axis":{"title":null,"values":["2026-04-03T02:15:00Z","2026-04-03T17:03:00Z","2026-04-04T07:51:00Z","2026-04-04T22:39:00Z","2026-04-05T13:27:00Z","2026-04-06T04:15:00Z","2026-04-06T19:03:00Z","2026-04-07T09:51:00Z","2026-04-08T00:39:00Z","2026-04-08T15:27:00Z","2026-04-09T06:15:00Z","2026-04-09T21:03:00Z","2026-04-10T11:51:00Z"],"labelExpr":"utcFormat(datum.value,'%d %b %y')","labelFont":"Liberation Sans","labelFontSize":20,"labelColor":"#a5adc6","labelOverlap":false,"labelFlush":false,"labelPadding":10,"labelOffset":{"condition":[{"test":"datum.value<1775200000000","value":53},{"test":"datum.value>1775800000000","value":11}],"value":0},"gridOpacity":{"condition":{"test":"datum.value>1775800000000","value":0},"value":1},"ticks":false,"domainColor":"#e7eaf3","domainWidth":3,"grid":true,"gridColor":"#e7eaf3","gridDash":[28,14],"gridWidth":2}},
"y":{"field":"p","type":"quantitative","scale":{"domain":[2005,2288],"nice":false},"axis":{"title":null,"orient":"right","values":[2288,2252.4,2217.25,2181.9,2146.4,2111.1,2075.75,2040.4,2005],"format":".0f","labelFont":"Liberation Sans","labelFontSize":20,"labelColor":"#a5adc6","labelPadding":12,"labelOverlap":false,"labelBound":false,"ticks":false,"domainColor":"#5cc85e","domainWidth":2,"grid":true,"gridColor":"#e7eaf3","gridDash":[14,14],"gridWidth":2}}}},
{"mark":{"type":"rect","color":"#f2f4fa"},"encoding":{"x":{"datum":{"year":2026,"month":4,"date":2,"hours":22,"minutes":22,"utc":true},"type":"temporal"},"x2":{"datum":{"year":2026,"month":4,"date":2,"hours":23,"minutes":57,"utc":true}},"y":{"datum":2328.9},"y2":{"datum":1986.7}}},
{"mark":{"type":"rule","color":"#e7eaf3","strokeWidth":2.5},"encoding":{"x":{"datum":{"year":2026,"month":4,"date":2,"hours":23,"minutes":57,"utc":true},"type":"temporal"},"x2":{"datum":{"year":2026,"month":4,"date":11,"hours":3,"minutes":40,"utc":true}},"y":{"datum":2323.6}}},
{"mark":{"type":"text","text":"santiment","align":"center","baseline":"alphabetic","font":"Open Sans","fontSize":200,"color":"#e7eaf3"},"encoding":{"x":{"datum":{"year":2026,"month":4,"date":7,"hours":1,"minutes":6,"utc":true},"type":"temporal"},"y":{"datum":2136.1}}},
{"mark":{"type":"point","shape":"circle","filled":true,"color":"#e7eaf3","size":616,"opacity":1},"encoding":{"x":{"datum":{"year":2026,"month":4,"date":5,"hours":14,"minutes":12,"utc":true},"type":"temporal"},"y":{"datum":2150}}},
{"mark":{"type":"point","shape":"circle","filled":true,"color":"#e7eaf3","size":616,"opacity":1},"encoding":{"x":{"datum":{"year":2026,"month":4,"date":8,"hours":12,"minutes":9,"utc":true},"type":"temporal"},"y":{"datum":2150}}},
{"data":{"name":"price"},"mark":{"type":"line","color":"#5cc85e","strokeWidth":3},"encoding":{"x":{"field":"t","type":"temporal"},"y":{"field":"p","type":"quantitative"}}},

{"mark":{"type":"rect","fill":"#f3faf2","stroke":"#c2eabf","strokeWidth":2,"cornerRadius":6},"encoding":{"x":{"datum":{"year":2026,"month":4,"date":3,"hours":2,"minutes":19,"utc":true},"type":"temporal"},"x2":{"datum":{"year":2026,"month":4,"date":3,"hours":22,"minutes":2,"utc":true}},"y":{"datum":2320.7},"y2":{"datum":2306.6}}},
{"mark":{"type":"rect","color":"#5cc85e","cornerRadius":3},"encoding":{"x":{"datum":{"year":2026,"month":4,"date":3,"hours":2,"minutes":19,"utc":true},"type":"temporal"},"x2":{"datum":{"year":2026,"month":4,"date":3,"hours":2,"minutes":50,"utc":true}},"y":{"datum":2320.7},"y2":{"datum":2306.6}}},
{"mark":{"type":"rect","fill":"#ffffff","stroke":"#e7eaf3","strokeWidth":2,"cornerRadius":6},"encoding":{"x":{"datum":{"year":2026,"month":4,"date":3,"hours":23,"minutes":16,"utc":true},"type":"temporal"},"x2":{"datum":{"year":2026,"month":4,"date":6,"hours":6,"minutes":23,"utc":true}},"y":{"datum":2320.7},"y2":{"datum":2306.6}}},
{"mark":{"type":"rect","color":"#ef6660","cornerRadius":3},"encoding":{"x":{"datum":{"year":2026,"month":4,"date":3,"hours":23,"minutes":16,"utc":true},"type":"temporal"},"x2":{"datum":{"year":2026,"month":4,"date":3,"hours":23,"minutes":46,"utc":true}},"y":{"datum":2320.7},"y2":{"datum":2306.6}}},
{"mark":{"type":"text","text":"Price (ETH)","fontSize":25.7,"color":"#1f2430"},"encoding":{"x":{"datum":{"year":2026,"month":4,"date":3,"hours":3,"minutes":41,"utc":true},"type":"temporal"},"y":{"datum":2313.5}}},
{"mark":{"type":"text","text":"Supply Held By Whales (exchanges excluded) (ETH)","fontSize":26.8,"color":"#1f2430"},"encoding":{"x":{"datum":{"year":2026,"month":4,"date":4,"hours":0,"minutes":34,"utc":true},"type":"temporal"},"y":{"datum":2313.5}}},
{"mark":{"type":"text","text":"⋮","font":"DejaVu Sans","align":"center","fontSize":26,"color":"#9faac4"},"encoding":{"x":{"datum":{"year":2026,"month":4,"date":3,"hours":16,"minutes":17,"utc":true},"type":"temporal"},"y":{"datum":2313.5}}},
{"mark":{"type":"text","text":"⋮","font":"DejaVu Sans","align":"center","fontSize":26,"color":"#9faac4"},"encoding":{"x":{"datum":{"year":2026,"month":4,"date":6,"hours":0,"minutes":47,"utc":true},"type":"temporal"},"y":{"datum":2313.5}}},
{"mark":{"type":"text","text":"×","align":"center","fontSize":22,"color":"#9faac4"},"encoding":{"x":{"datum":{"year":2026,"month":4,"date":3,"hours":19,"minutes":44,"utc":true},"type":"temporal"},"y":{"datum":2313.5}}},
{"mark":{"type":"text","text":"×","align":"center","fontSize":22,"color":"#9faac4"},"encoding":{"x":{"datum":{"year":2026,"month":4,"date":6,"hours":4,"minutes":14,"utc":true},"type":"temporal"},"y":{"datum":2313.5}}},
{"mark":{"type":"point","shape":"circle","filled":true,"color":"#e8ebf0","size":755,"opacity":1},"encoding":{"x":{"datum":{"year":2026,"month":4,"date":3,"hours":21,"minutes":45,"utc":true},"type":"temporal"},"y":{"datum":2320}}},
{"mark":{"type":"point","shape":"circle","filled":true,"color":"#e8ebf0","size":755,"opacity":1},"encoding":{"x":{"datum":{"year":2026,"month":4,"date":6,"hours":6,"minutes":15,"utc":true},"type":"temporal"},"y":{"datum":2320}}},
{"mark":{"type":"point","shape":"M0,-1L0.6,0L0,1L-0.6,0Z","filled":true,"color":"#22252e","size":625,"opacity":1},"encoding":{"x":{"datum":{"year":2026,"month":4,"date":3,"hours":21,"minutes":45,"utc":true},"type":"temporal"},"y":{"datum":2320}}},
{"mark":{"type":"point","shape":"M0,-1L0.6,0L0,1L-0.6,0Z","filled":true,"color":"#22252e","size":625,"opacity":1},"encoding":{"x":{"datum":{"year":2026,"month":4,"date":6,"hours":6,"minutes":15,"utc":true},"type":"temporal"},"y":{"datum":2320}}},

{"mark":{"type":"text","text":"Style: Line"},"encoding":{"x":{"datum":{"year":2026,"month":4,"date":3,"hours":2,"minutes":15,"utc":true},"type":"temporal"},"y":{"datum":2298.1}}},
{"mark":{"type":"rect","color":"#5cc85e","cornerRadius":3},"encoding":{"x":{"datum":{"year":2026,"month":4,"date":3,"hours":14,"minutes":42,"utc":true},"type":"temporal"},"x2":{"datum":{"year":2026,"month":4,"date":3,"hours":16,"minutes":8,"utc":true}},"y":{"datum":2300.3},"y2":{"datum":2295.8}}},
{"mark":{"type":"rect","fill":"transparent","stroke":"#7a859e","strokeWidth":2},"encoding":{"x":{"datum":{"year":2026,"month":4,"date":3,"hours":20,"minutes":45,"utc":true},"type":"temporal"},"x2":{"datum":{"year":2026,"month":4,"date":3,"hours":22,"minutes":58,"utc":true}},"y":{"datum":2300.8},"y2":{"datum":2295.6}}},
{"mark":{"type":"rule","color":"#7a859e","strokeWidth":2},"encoding":{"x":{"datum":{"year":2026,"month":4,"date":3,"hours":21,"minutes":24,"utc":true},"type":"temporal"},"y":{"datum":2300.8},"y2":{"datum":2299.2}}},
{"mark":{"type":"rule","color":"#7a859e","strokeWidth":2},"encoding":{"x":{"datum":{"year":2026,"month":4,"date":3,"hours":22,"minutes":12,"utc":true},"type":"temporal"},"y":{"datum":2300.8},"y2":{"datum":2299.2}}},
{"mark":{"type":"text","text":"Interval: Auto (15m)"},"encoding":{"x":{"datum":{"year":2026,"month":4,"date":4,"hours":0,"minutes":8,"utc":true},"type":"temporal"},"y":{"datum":2298.1}}},
{"mark":{"type":"text","text":"Indicators:"},"encoding":{"x":{"datum":{"year":2026,"month":4,"date":4,"hours":19,"minutes":21,"utc":true},"type":"temporal"},"y":{"datum":2298.1}}},
{"mark":{"type":"text","text":"Show axis"},"encoding":{"x":{"datum":{"year":2026,"month":4,"date":5,"hours":7,"minutes":48,"utc":true},"type":"temporal"},"y":{"datum":2298.1}}},
{"mark":{"type":"rect","color":"#57c28f","cornerRadius":4},"encoding":{"x":{"datum":{"year":2026,"month":4,"date":5,"hours":16,"minutes":34,"utc":true},"type":"temporal"},"x2":{"datum":{"year":2026,"month":4,"date":5,"hours":18,"minutes":57,"utc":true}},"y":{"datum":2301.6},"y2":{"datum":2294.5}}},
{"mark":{"type":"text","text":"✓","font":"DejaVu Sans","align":"center","fontSize":20,"color":"#ffffff"},"encoding":{"x":{"datum":{"year":2026,"month":4,"date":5,"hours":17,"minutes":43,"utc":true},"type":"temporal"},"y":{"datum":2298.1}}},
{"mark":{"type":"text","text":"Pin axis"},"encoding":{"x":{"datum":{"year":2026,"month":4,"date":5,"hours":21,"minutes":15,"utc":true},"type":"temporal"},"y":{"datum":2298.1}}},
{"mark":{"type":"rect","fill":"#ffffff","stroke":"#e7eaf3","strokeWidth":2,"cornerRadius":4},"encoding":{"x":{"datum":{"year":2026,"month":4,"date":6,"hours":4,"minutes":14,"utc":true},"type":"temporal"},"x2":{"datum":{"year":2026,"month":4,"date":6,"hours":6,"minutes":23,"utc":true}},"y":{"datum":2301.6},"y2":{"datum":2294.5}}},
{"mark":{"type":"text","text":"Axis max/min: Auto/Auto","fontSize":24},"encoding":{"x":{"datum":{"year":2026,"month":4,"date":6,"hours":8,"minutes":50,"utc":true},"type":"temporal"},"y":{"datum":2298.1}}},
{"mark":{"type":"text","text":"+","align":"center","fontSize":22},"encoding":{"x":{"datum":{"year":2026,"month":4,"date":7,"hours":8,"minutes":44,"utc":true},"type":"temporal"},"y":{"datum":2298.1}}},
{"mark":{"type":"text","text":"Combine metrics","fontSize":23.8},"encoding":{"x":{"datum":{"year":2026,"month":4,"date":7,"hours":10,"minutes":28,"utc":true},"type":"temporal"},"y":{"datum":2298.1}}},
{"mark":{"type":"point","shape":"M-1,-0.5L0,0.5L1,-0.5","filled":false,"color":"#7a859e","strokeWidth":1.5,"size":120,"opacity":1},"encoding":{"x":{"datum":{"year":2026,"month":4,"date":3,"hours":11,"minutes":45,"utc":true},"type":"temporal"},"y":{"datum":2298.1}}},
{"mark":{"type":"point","shape":"M-1,-0.5L0,0.5L1,-0.5","filled":false,"color":"#7a859e","strokeWidth":1.5,"size":120,"opacity":1},"encoding":{"x":{"datum":{"year":2026,"month":4,"date":3,"hours":17,"minutes":52,"utc":true},"type":"temporal"},"y":{"datum":2298.1}}},
{"mark":{"type":"point","shape":"M-1,-0.5L0,0.5L1,-0.5","filled":false,"color":"#7a859e","strokeWidth":1.5,"size":120,"opacity":1},"encoding":{"x":{"datum":{"year":2026,"month":4,"date":4,"hours":16,"minutes":28,"utc":true},"type":"temporal"},"y":{"datum":2298.1}}},
{"mark":{"type":"point","shape":"M-1,-0.5L0,0.5L1,-0.5","filled":false,"color":"#7a859e","strokeWidth":1.5,"size":120,"opacity":1},"encoding":{"x":{"datum":{"year":2026,"month":4,"date":5,"hours":4,"minutes":55,"utc":true},"type":"temporal"},"y":{"datum":2298.1}}},
{"mark":{"type":"point","shape":"M-1,-0.5L0,0.5L1,-0.5","filled":false,"color":"#7a859e","strokeWidth":1.5,"size":120,"opacity":1},"encoding":{"x":{"datum":{"year":2026,"month":4,"date":7,"hours":5,"minutes":21,"utc":true},"type":"temporal"},"y":{"datum":2298.1}}},
{"mark":{"type":"rule","color":"#c9cfdf","strokeWidth":2,"strokeDash":[4,4]},"encoding":{"x":{"datum":{"year":2026,"month":4,"date":3,"hours":2,"minutes":15,"utc":true},"type":"temporal"},"x2":{"datum":{"year":2026,"month":4,"date":3,"hours":12,"minutes":24,"utc":true}},"y":{"datum":2293.1}}},
{"mark":{"type":"rule","color":"#c9cfdf","strokeWidth":2,"strokeDash":[4,4]},"encoding":{"x":{"datum":{"year":2026,"month":4,"date":3,"hours":14,"minutes":42,"utc":true},"type":"temporal"},"x2":{"datum":{"year":2026,"month":4,"date":3,"hours":18,"minutes":27,"utc":true}},"y":{"datum":2293.1}}},
{"mark":{"type":"rule","color":"#c9cfdf","strokeWidth":2,"strokeDash":[4,4]},"encoding":{"x":{"datum":{"year":2026,"month":4,"date":3,"hours":20,"minutes":45,"utc":true},"type":"temporal"},"x2":{"datum":{"year":2026,"month":4,"date":4,"hours":17,"minutes":2,"utc":true}},"y":{"datum":2293.1}}},
{"mark":{"type":"rule","color":"#c9cfdf","strokeWidth":2,"strokeDash":[4,4]},"encoding":{"x":{"datum":{"year":2026,"month":4,"date":4,"hours":19,"minutes":21,"utc":true},"type":"temporal"},"x2":{"datum":{"year":2026,"month":4,"date":5,"hours":5,"minutes":29,"utc":true}},"y":{"datum":2293.1}}},
{"mark":{"type":"rule","color":"#c9cfdf","strokeWidth":2,"strokeDash":[4,4]},"encoding":{"x":{"datum":{"year":2026,"month":4,"date":5,"hours":7,"minutes":48,"utc":true},"type":"temporal"},"x2":{"datum":{"year":2026,"month":4,"date":5,"hours":18,"minutes":44,"utc":true}},"y":{"datum":2293.1}}},
{"mark":{"type":"rule","color":"#c9cfdf","strokeWidth":2,"strokeDash":[4,4]},"encoding":{"x":{"datum":{"year":2026,"month":4,"date":5,"hours":21,"minutes":15,"utc":true},"type":"temporal"},"x2":{"datum":{"year":2026,"month":4,"date":6,"hours":6,"minutes":23,"utc":true}},"y":{"datum":2293.1}}},
{"mark":{"type":"rule","color":"#c9cfdf","strokeWidth":2,"strokeDash":[4,4]},"encoding":{"x":{"datum":{"year":2026,"month":4,"date":6,"hours":8,"minutes":50,"utc":true},"type":"temporal"},"x2":{"datum":{"year":2026,"month":4,"date":7,"hours":6,"minutes":0,"utc":true}},"y":{"datum":2293.1}}},
{"mark":{"type":"rule","color":"#c9cfdf","strokeWidth":2,"strokeDash":[4,4]},"encoding":{"x":{"datum":{"year":2026,"month":4,"date":7,"hours":8,"minutes":27,"utc":true},"type":"temporal"},"x2":{"datum":{"year":2026,"month":4,"date":7,"hours":23,"minutes":25,"utc":true}},"y":{"datum":2293.1}}},

{"mark":{"type":"rect","fill":"#ffffff","fillOpacity":0.88,"stroke":"#d5dae8","strokeWidth":2},"encoding":{"x":{"datum":{"year":2026,"month":4,"date":3,"hours":2,"minutes":15,"utc":true},"type":"temporal"},"x2":{"datum":{"year":2026,"month":4,"date":5,"hours":7,"minutes":22,"utc":true}},"y":{"datum":2288.4},"y2":{"datum":2250.9}}},
{"mark":{"type":"rect","fill":"#e8ebf4"},"encoding":{"x":{"datum":{"year":2026,"month":4,"date":3,"hours":2,"minutes":15,"utc":true},"type":"temporal"},"x2":{"datum":{"year":2026,"month":4,"date":5,"hours":7,"minutes":22,"utc":true}},"y":{"datum":2288.4},"y2":{"datum":2275.7}}},
{"mark":{"type":"text","text":"05:30, April 10, 2026","fontSize":24},"encoding":{"x":{"datum":{"year":2026,"month":4,"date":3,"hours":3,"minutes":50,"utc":true},"type":"temporal"},"y":{"datum":2282.2}}},
{"mark":{"type":"rect","color":"#5cc85e"},"encoding":{"x":{"datum":{"year":2026,"month":4,"date":3,"hours":3,"minutes":50,"utc":true},"type":"temporal"},"x2":{"datum":{"year":2026,"month":4,"date":3,"hours":4,"minutes":59,"utc":true}},"y":{"datum":2267.8},"y2":{"datum":2267.0}}},
{"mark":{"type":"rect","color":"#ef6660"},"encoding":{"x":{"datum":{"year":2026,"month":4,"date":3,"hours":3,"minutes":50,"utc":true},"type":"temporal"},"x2":{"datum":{"year":2026,"month":4,"date":3,"hours":4,"minutes":59,"utc":true}},"y":{"datum":2260.2},"y2":{"datum":2259.4}}},
{"mark":{"type":"text","text":"$2,187.91","fontSize":23.8,"color":"#1f2430"},"encoding":{"x":{"datum":{"year":2026,"month":4,"date":3,"hours":6,"minutes":8,"utc":true},"type":"temporal"},"y":{"datum":2267.4}}},
{"mark":{"type":"text","text":"Price (ETH)","fontSize":23.8},"encoding":{"x":{"datum":{"year":2026,"month":4,"date":3,"hours":14,"minutes":16,"utc":true},"type":"temporal"},"y":{"datum":2267.4}}},
{"mark":{"type":"text","text":"123.43M","fontSize":23.8,"color":"#1f2430"},"encoding":{"x":{"datum":{"year":2026,"month":4,"date":3,"hours":6,"minutes":8,"utc":true},"type":"temporal"},"y":{"datum":2259.8}}},
{"mark":{"type":"text","text":"Supply Held By Whales (exchanges excluded) (ETH)","fontSize":24},"encoding":{"x":{"datum":{"year":2026,"month":4,"date":3,"hours":13,"minutes":20,"utc":true},"type":"temporal"},"y":{"datum":2259.8}}},

{"mark":{"type":"rect","color":"#5cc85e"},"encoding":{"x":{"datum":{"year":2026,"month":4,"date":10,"hours":13,"minutes":44,"utc":true},"type":"temporal"},"x2":{"datum":{"year":2026,"month":4,"date":10,"hours":17,"minutes":50,"utc":true}},"y":{"datum":2193.9},"y2":{"datum":2188.1}}},
{"mark":{"type":"text","text":"2191","fontSize":20,"color":"#ffffff"},"encoding":{"x":{"datum":{"year":2026,"month":4,"date":10,"hours":14,"minutes":10,"utc":true},"type":"temporal"},"y":{"datum":2191}}},
{"mark":{"type":"rect","color":"#7f88a0"},"encoding":{"x":{"datum":{"year":2026,"month":4,"date":10,"hours":13,"minutes":44,"utc":true},"type":"temporal"},"x2":{"datum":{"year":2026,"month":4,"date":10,"hours":17,"minutes":50,"utc":true}},"y":{"datum":2126.4},"y2":{"datum":2120.6}}},
{"mark":{"type":"text","text":"2123","fontSize":20,"color":"#e7eaf3"},"encoding":{"x":{"datum":{"year":2026,"month":4,"date":10,"hours":14,"minutes":10,"utc":true},"type":"temporal"},"y":{"datum":2123.5}}},

{"mark":{"type":"rect","fill":"transparent","stroke":"#e7eaf3","strokeWidth":2.5,"cornerRadius":8},"encoding":{"x":{"datum":{"year":2026,"month":4,"date":3,"hours":2,"minutes":15,"utc":true},"type":"temporal"},"x2":{"datum":{"year":2026,"month":4,"date":11,"hours":3,"minutes":24,"utc":true}},"y":{"datum":1991.1},"y2":{"datum":1980}}},
{"data":{"name":"overview"},"mark":{"type":"line","color":"#d5dae8","strokeWidth":2.5},"encoding":{"x":{"field":"t","type":"temporal"},"y":{"field":"p","type":"quantitative"}}}
]},
{"layer":[
{"data":{"name":"supply"},"mark":{"type":"line","color":"#ef6660","strokeWidth":3},"encoding":{"x":{"field":"t","type":"temporal"},"y":{"field":"s","type":"quantitative","scale":{"domain":[121.68,124.66],"nice":false},"axis":{"title":null,"orient":"right","offset":100.3,"values":[124.66,124.2875,123.9151,123.5451,123.17,122.7975,122.4251,122.0525,121.68],"labelExpr":"format(datum.value,'.2~f')+'M'","labelFont":"Liberation Sans","labelFontSize":20,"labelColor":"#a5adc6","labelPadding":13,"labelOverlap":false,"labelBound":false,"ticks":false,"domainColor":"#ef6660","domainWidth":2,"grid":false}}}},
{"mark":{"type":"rect","color":"#ef6660"},"encoding":{"x":{"datum":{"year":2026,"month":4,"date":10,"hours":20,"minutes":56,"utc":true},"type":"temporal"},"x2":{"datum":{"year":2026,"month":4,"date":11,"hours":3,"minutes":24,"utc":true}},"y":{"datum":123.46},"y2":{"datum":123.40}}},
{"mark":{"type":"text","text":"123.43M","fontSize":20,"color":"#ffffff"},"encoding":{"x":{"datum":{"year":2026,"month":4,"date":10,"hours":21,"minutes":26,"utc":true},"type":"temporal"},"y":{"datum":123.43}}},
{"mark":{"type":"rect","color":"#7f88a0"},"encoding":{"x":{"datum":{"year":2026,"month":4,"date":10,"hours":20,"minutes":56,"utc":true},"type":"temporal"},"x2":{"datum":{"year":2026,"month":4,"date":11,"hours":3,"minutes":24,"utc":true}},"y":{"datum":122.957},"y2":{"datum":122.897}}},
{"mark":{"type":"text","text":"122.93M","fontSize":20,"color":"#e7eaf3"},"encoding":{"x":{"datum":{"year":2026,"month":4,"date":10,"hours":21,"minutes":26,"utc":true},"type":"temporal"},"y":{"datum":122.927}}}
]},
{"layer":[
{"mark":{"type":"rule","color":"#a5adc6","strokeWidth":2},"encoding":{"x":{"datum":{"year":2026,"month":4,"date":10,"hours":5,"minutes":30,"utc":true},"type":"temporal"},"y":{"datum":2288,"scale":{"domain":[2005,2288],"nice":false},"axis":null},"y2":{"datum":2003}}},
{"mark":{"type":"rule","color":"#a5adc6","strokeWidth":2},"encoding":{"x":{"datum":{"year":2026,"month":4,"date":3,"hours":2,"minutes":15,"utc":true},"type":"temporal"},"x2":{"datum":{"year":2026,"month":4,"date":10,"hours":13,"minutes":17,"utc":true}},"y":{"datum":2123.5,"axis":null}}},
{"mark":{"type":"rect","color":"#7f88a0"},"encoding":{"x":{"datum":{"year":2026,"month":4,"date":10,"hours":1,"minutes":56,"utc":true},"type":"temporal"},"x2":{"datum":{"year":2026,"month":4,"date":10,"hours":9,"minutes":3,"utc":true}},"y":{"datum":2003,"axis":null},"y2":{"datum":1997.2}}},
{"mark":{"type":"text","text":"10 Apr 26","align":"center","fontSize":20,"color":"#e7eaf3"},"encoding":{"x":{"datum":{"year":2026,"month":4,"date":10,"hours":5,"minutes":30,"utc":true},"type":"temporal"},"y":{"datum":2000.1,"axis":null}}}
]}
]
}
